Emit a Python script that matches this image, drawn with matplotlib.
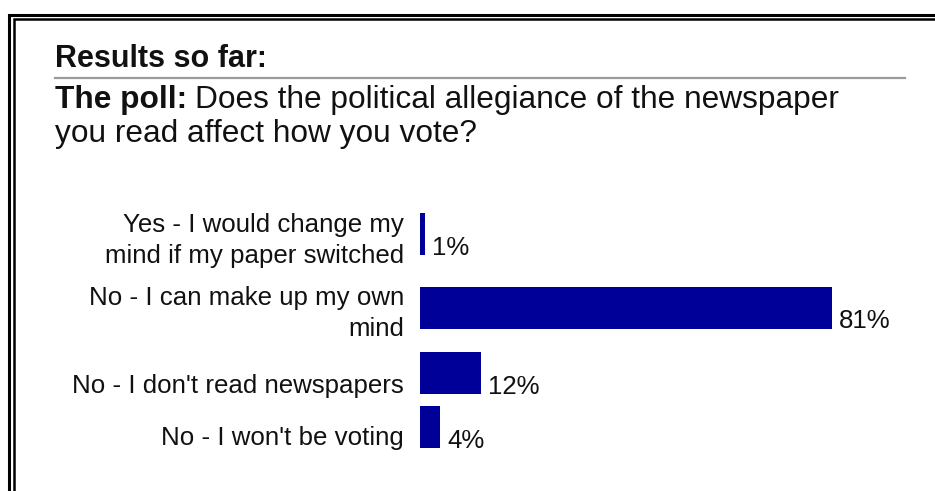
import matplotlib
matplotlib.use("Agg")
import matplotlib.pyplot as plt

plt.rcParams['font.family'] = ['Liberation Sans', 'DejaVu Sans']

# poll results
answers = [
    "Yes - I would change my\nmind if my paper switched",
    "No - I can make up my own\nmind",
    "No - I don't read newspapers",
    "No - I won't be voting",
]
shares = [1, 81, 12, 4]

heading = "Results so far:"
question_lead = "The poll:"
question = "Does the political allegiance of the newspaper"
question_2 = "you read affect how you vote?"

# row layout in pixels from the top of the image
W, H = 935, 491
row_centers = [234, 307.5, 372.5, 427]
label_baselines = [263, 336, 393, 445]
line_step = 31
bar_h = 42
bar_left = 420
px_per_pct = 5.09

fig = plt.figure(figsize=(W / 100, H / 100), dpi=100)
fig.patch.set_facecolor("white")

# background axes in pixel units for frame and text
bg = fig.add_axes([0, 0, 1, 1])
bg.set_xlim(0, W)
bg.set_ylim(H, 0)
bg.axis("off")

# double black frame, open to the right and bottom
bg.plot([8.5, 8.5, W], [H, 14.5, 14.5], color="black", lw=2.2, solid_capstyle="butt",
        solid_joinstyle="miter")
bg.plot([13.5, 13.5, W], [H, 19, 19], color="black", lw=1.8, solid_capstyle="butt",
        solid_joinstyle="miter")

txt = "#111111"
bg.text(55, 67, heading, fontsize=22, fontweight="bold", color=txt, va="baseline")
bg.plot([55, 905], [78, 78], color="#9a9a9a", lw=1.6)
t = bg.text(55, 108, question_lead, fontsize=22.8, fontweight="bold", color=txt,
            va="baseline")
fig.canvas.draw()
ext = t.get_window_extent()
bg.text(55 + ext.width + 8, 108, question, fontsize=22.8, color=txt, va="baseline")
bg.text(55, 142, question_2, fontsize=22.8, color=txt, va="baseline")

# category labels, right aligned against the bars, one line at a time
for lab, base in zip(answers, label_baselines):
    lines = lab.split("\n")
    for k, line in enumerate(lines):
        y = base - (len(lines) - 1 - k) * line_step
        bg.text(404, y, line, fontsize=18.6, color=txt, ha="right", va="baseline")

# bars
ax = fig.add_axes([bar_left / W, 0, 100 * px_per_pct / W, 1])
ax.set_xlim(0, 100)
ax.set_ylim(H, 0)
ax.axis("off")
ax.patch.set_alpha(0)
ax.barh(row_centers, shares, height=bar_h, left=0, color="#000099")

for v, yc in zip(shares, row_centers):
    ax.annotate(f"{v}%", xy=(v, yc + bar_h / 2), xytext=(5, 0),
                textcoords="offset points", fontsize=18.6, color=txt,
                va="baseline", ha="left")

fig.savefig("out.png", dpi=100, facecolor="white")
